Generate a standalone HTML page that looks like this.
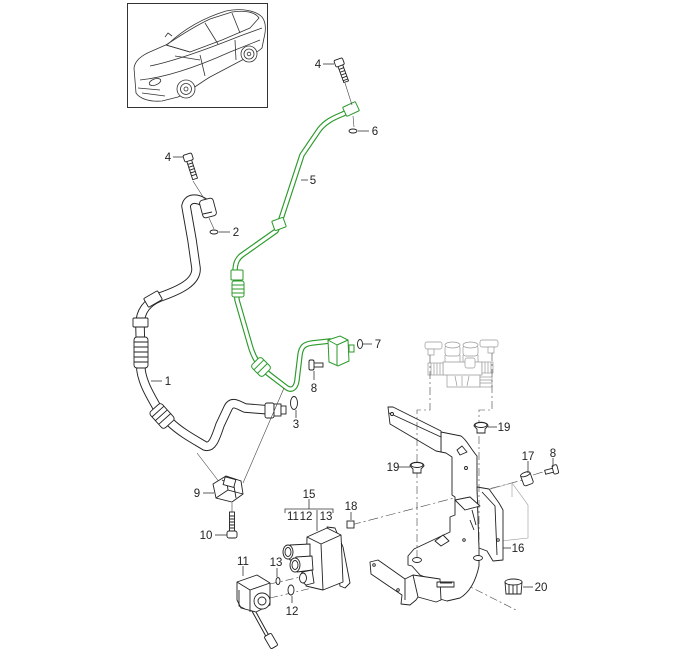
<!DOCTYPE html>
<html><head><meta charset="utf-8"><style>
html,body{margin:0;padding:0;background:#fff;}
svg{display:block}
text{font-family:"Liberation Sans",Arial,sans-serif;font-size:11.5px;fill:#222;}
</style></head><body>
<svg width="697" height="666" viewBox="0 0 697 666" xmlns="http://www.w3.org/2000/svg">
<rect width="697" height="666" fill="#fff"/>

<!-- Car inset -->
<rect x="127.5" y="3.5" width="140" height="104" fill="#fff" stroke="#333" stroke-width="1"/>
<g fill="none" stroke="#333" stroke-width="0.8" stroke-linejoin="round">
  <path d="M134,68 C135,60 142,55 152,51 L168,44 C183,30 203,18 226,11 C240,8 255,10 262,17 C266,22 266,30 264,38 L262,48 C258,52 252,55 246,58 L210,77 C200,83 190,91 178,97 L162,101 C150,102 140,99 136,93 Z" fill="#fff"/>
  <path d="M166,45 C178,37 195,26 210,19 L232,12 C245,10 255,12 259,18 L250,28 L222,40 L190,52 Z"/>
  <path d="M166,45 L190,52 M205,23 L218,44 M232,13 L240,33"/>
  <path d="M150,66 C170,62 200,52 240,36 L262,28"/>
  <path d="M140,80 C160,78 190,70 230,52 L260,40"/>
  <path d="M200,55 L205,76 M235,40 L236,60 M175,56 L200,60"/>
  <ellipse cx="155" cy="82" rx="6" ry="3" transform="rotate(-20 155 82)"/>
  <path d="M165,37 L168,33 L172,36"/>
  <circle cx="186" cy="89" r="9" fill="#fff"/><circle cx="186" cy="89" r="5.5"/><circle cx="186" cy="89" r="2"/>
  <circle cx="249" cy="54" r="8" fill="#fff"/><circle cx="249" cy="54" r="5"/><circle cx="249" cy="54" r="1.8"/>
  <path d="M138,88 L160,90 M142,93 L165,96"/>
</g>

<!-- Hose 1 -->
<g fill="none" stroke-linecap="round" stroke-linejoin="round">
  <path d="M205,203 C196,197 188,198 186,206 L192,240 L196,268 C197,282 180,290 160,297 C148,302 140,310 140,325 L141,370 C143,385 152,398 160,413 L170,422 C180,432 195,440 205,446 C212,448 215,440 220,425 L228,408 C232,400 238,405 245,408 L270,410" stroke="#222" stroke-width="9.5"/>
  <path d="M205,203 C196,197 188,198 186,206 L192,240 L196,268 C197,282 180,290 160,297 C148,302 140,310 140,325 L141,370 C143,385 152,398 160,413 L170,422 C180,432 195,440 205,446 C212,448 215,440 220,425 L228,408 C232,400 238,405 245,408 L270,410" stroke="#fff" stroke-width="7.6"/>
</g>
<g fill="#fff" stroke="#222" stroke-width="0.9">
  <rect x="-7" y="-9" width="14" height="18" rx="3" transform="translate(208,208) rotate(-15)"/>
  <path d="M203,214 L212,212" fill="none"/>
  <rect x="-8" y="-5" width="16" height="10" rx="1" transform="translate(153,299) rotate(-30)"/>
  <rect x="133" y="318" width="15" height="9" rx="1"/>
  <rect x="134" y="337" width="14" height="31" rx="3"/>
  <path d="M134,342 H148 M134,347 H148 M134,352 H148 M134,357 H148 M134,362 H148" fill="none"/>
  <g transform="translate(162,416) rotate(-42)">
    <rect x="-8" y="-11" width="16" height="22" rx="3"/>
    <path d="M-8,-6 H8 M-8,-1 H8 M-8,4 H8" fill="none"/>
  </g>
  <rect x="265" y="403" width="9" height="15" rx="2"/>
  <rect x="274" y="404" width="7" height="12"/>
  <rect x="281" y="406" width="5" height="8"/>
</g>

<!-- Green pipe 5 -->
<g fill="none" stroke-linecap="round" stroke-linejoin="round">
  <path d="M350,110 L343,114 C333,118 325,122 319,130 L302,155 L280,222 L276,231 L242,255 C238,258 235,262 235,272 L237,300 L250,345 C253,356 258,366 270,375 L287,388 C292,391 296,388 297,380 L300,355 C301,347 304,344 312,343 L330,341" stroke="#2a9a2a" stroke-width="5.5"/>
  <path d="M350,110 L343,114 C333,118 325,122 319,130 L302,155 L280,222 L276,231 L242,255 C238,258 235,262 235,272 L237,300 L250,345 C253,356 258,366 270,375 L287,388 C292,391 296,388 297,380 L300,355 C301,347 304,344 312,343 L330,341" stroke="#fff" stroke-width="3.2"/>
</g>
<g fill="#fff" stroke="#2a9a2a" stroke-width="1">
  <rect x="-7" y="-5" width="14" height="10" rx="1" transform="translate(351,109) rotate(-25)"/>
  <rect x="-6" y="-5" width="12" height="10" rx="1" transform="translate(279,224) rotate(-20)"/>
  <rect x="231" y="270" width="12" height="10" rx="1"/>
  <rect x="232" y="281" width="12" height="16" rx="2"/>
  <path d="M232,285 H244 M232,289 H244 M232,293 H244" fill="none"/>
  <g transform="translate(261,367) rotate(-45)">
    <rect x="-7" y="-8" width="14" height="16" rx="3"/>
    <path d="M-7,-3 H7 M-7,2 H7" fill="none"/>
  </g>
  <path d="M328,340 L340,336 L348,340 L349,361 L338,366 L329,362 Z"/>
  <path d="M328,340 L337,345 L337,365 M337,345 L348,340" fill="none"/>
  <rect x="349" y="345" width="5" height="7"/>
</g>

<!-- thin connector lines -->
<g fill="none" stroke="#444" stroke-width="0.6">
  <path d="M345,83 L352,105 M353,116 L354,127"/>
  <path d="M193,181 L205,200 M209,218 L214,229"/>
  <path d="M220,483 L197,453 M243,483 L284,388"/>
  <path d="M232,503 L232,512"/>
  <path d="M351,525 L523,480 M533,475 L546,471" stroke-dasharray="10 3 2 3"/>
  <path d="M270,584 L305,576 M270,598 L312,588" stroke-dasharray="8 3 2 3"/>
  <path d="M447,575 L516,610" stroke-dasharray="8 3 2 3"/>
</g>

<!-- bolts -->
<g stroke="#222" stroke-width="0.9" fill="#fff">
  <g transform="translate(339,62) rotate(-20)">
    <rect x="-2.5" y="3" width="5" height="18"/>
    <path d="M-2.5,7 H2.5 M-2.5,10 H2.5 M-2.5,13 H2.5 M-2.5,16 H2.5 M-2.5,19 H2.5" fill="none"/>
    <rect x="-4.5" y="-3" width="9" height="7" rx="1.5"/>
  </g>
  <g transform="translate(188,157) rotate(-18)">
    <rect x="-2.5" y="3" width="5" height="20"/>
    <path d="M-2.5,7 H2.5 M-2.5,10 H2.5 M-2.5,13 H2.5 M-2.5,16 H2.5 M-2.5,19 H2.5" fill="none"/>
    <rect x="-4.5" y="-3" width="9" height="7" rx="1.5"/>
  </g>
  <g transform="translate(232,534)">
    <rect x="-2.5" y="-22" width="5" height="20"/>
    <path d="M-2.5,-18 H2.5 M-2.5,-15 H2.5 M-2.5,-12 H2.5 M-2.5,-9 H2.5 M-2.5,-6 H2.5" fill="none"/>
    <rect x="-5" y="-3" width="10" height="7" rx="2"/>
  </g>
  <rect x="313" y="363" width="10" height="4"/>
  <rect x="309" y="360" width="5" height="10" rx="1.5"/>
  <rect x="545" y="469" width="9" height="4" transform="rotate(-15 550 471)"/>
  <rect x="553" y="465" width="5" height="9" rx="1.5" transform="rotate(-15 555 470)"/>
  <g transform="translate(527,479) rotate(-20)">
    <rect x="-5" y="-6" width="10" height="12" rx="2"/>
    <ellipse cx="0" cy="-5" rx="5" ry="2"/>
  </g>
  <ellipse cx="353" cy="131" rx="4" ry="2"/>
  <ellipse cx="214" cy="232" rx="4" ry="2"/>
  <ellipse cx="294" cy="403" rx="3.5" ry="6.5"/>
  <ellipse cx="360" cy="344" rx="2.5" ry="4.5"/>
  <ellipse cx="278" cy="581" rx="2" ry="3.5"/>
  <ellipse cx="291" cy="590" rx="3" ry="5"/>
  <rect x="347" y="521" width="7" height="7"/>
  <path d="M213,484 L226,476 L241,481 L243,494 L232,502 L216,498 Z"/>
  <path d="M226,476 L228,490 L243,494 M228,490 L216,498 M222,480 L234,486 L236,498" fill="none"/>
  <rect x="224" y="478" width="11" height="8" transform="rotate(15 229 482)"/>
</g>

<!-- Valve block 15 -->
<g stroke="#222" stroke-width="0.9" fill="#fff" stroke-linejoin="round">
  <path d="M327,527 L335,528 L343,547 L350,583 L345,588 L340,586 L334,548 Z"/>
  <path d="M307,537 L327,528 L341,535 L343,582 L323,590 L306,586 Z"/>
  <path d="M307,537 L321,544 L341,535 M321,544 L323,590" fill="none"/>
  <path d="M310,544 L290,545 L284,552 L290,560 L310,558 Z"/>
  <ellipse cx="288" cy="552" rx="5" ry="7"/><ellipse cx="288" cy="552" rx="3" ry="4.5"/>
  <path d="M312,556 L296,557 L291,565 L297,572 L313,570 Z"/>
  <ellipse cx="295" cy="565" rx="5" ry="7"/><ellipse cx="295" cy="565" rx="3" ry="4.5"/>
  <path d="M312,570 L302,572 L300,580 L306,585 L314,583 Z"/>
  <ellipse cx="303" cy="578" rx="3.5" ry="5"/>
</g>

<!-- Sensor 11 -->
<g stroke="#222" stroke-width="0.9" fill="#fff" stroke-linejoin="round">
  <path d="M252,608 L268,637" stroke-width="4"/>
  <path d="M252,608 L268,637" stroke="#fff" stroke-width="2"/>
  <rect x="-4" y="-7" width="8" height="14" rx="1.5" transform="translate(271,641) rotate(-30)"/>
  <path d="M237,582 L257,575 L270,583 L270,605 L256,612 L241,608 L237,600 Z"/>
  <path d="M237,582 L250,590 L270,583 M250,590 L250,612" fill="none"/>
  <circle cx="262" cy="601" r="8"/>
  <circle cx="262" cy="601" r="4"/>
  <path d="M239,590 L239,606 L245,609" fill="none"/>
</g>

<!-- Ghost valve (gray) -->
<g stroke="#999" stroke-width="0.7" fill="#fff">
  <path d="M447,373 L480,373 L480,387 L447,387 Z"/>
  <path d="M443,362 L482,362 L482,375 L443,375 Z"/>
  <path d="M445,355 L445,362 M460,355 L460,362 M463,355 L463,362 M478,355 L478,362" fill="none"/>
  <rect x="445" y="345" width="15" height="11" rx="3"/><ellipse cx="452.5" cy="345" rx="7.5" ry="3"/>
  <rect x="463" y="345" width="15" height="11" rx="3"/><ellipse cx="470.5" cy="345" rx="7.5" ry="3"/>
  <rect x="425" y="342" width="17" height="7" rx="2"/><rect x="428" y="349" width="6" height="6"/>
  <rect x="480" y="340" width="18" height="7" rx="2"/><rect x="488" y="347" width="6" height="6"/>
  <rect x="428" y="363" width="15" height="12"/>
  <path d="M431,363 V375 M434,363 V375 M437,363 V375 M440,363 V375" fill="none"/>
  <rect x="482" y="362" width="11" height="11"/>
  <path d="M485,362 V373 M488,362 V373 M491,362 V373" fill="none"/>
  <rect x="480" y="377" width="12" height="10"/>
  <path d="M480,380 H492 M480,383 H492" fill="none"/>
  <rect x="465" y="358" width="10" height="10" rx="2"/>
  <path d="M455,376 L457,386 M462,376 L462,386 M469,376 L467,386" fill="none"/>
</g>

<!-- Ghost box for 16 -->
<g fill="none" stroke="#999" stroke-width="0.6">
  <path d="M484,491 L512,483 L528,505 L528,538 L500,541"/>
  <path d="M512,483 L512,497"/>
</g>

<!-- Bracket 16 -->
<g stroke="#222" stroke-width="0.9" fill="#fff" stroke-linejoin="round">
  <path d="M441,432 L461,436 C467,440 470,448 477,456 L477,484 L479,548 L479,566 C476,580 470,592 460,598 L447,601 L440,599 L440,583 L420,575 L412,566 L408,565 L408,556 L414,549 L450,532 L450,517 L455,515 L455,497 L452,495 L452,457 L446,453 L441,452 Z"/>
  <path d="M477,487 L489,489 L499,503 L503,510 L503,560 L493,561 L487,551 L479,548 Z"/>
  <path d="M482,492 L495,506 L497,555" fill="none"/>
  <path d="M388,407 L393,407 L441,431 L441,452 L436,451 L390,424 Z"/>
  <path d="M389,413 L441,437" fill="none"/>
  <path d="M370,562 L378,560 L405,579 L413,575 L440,579 L441,600 L436,602 L418,597 L416,600 L410,605 L401,604 L402,595 L371,574 Z"/>
  <path d="M405,579 L405,600 M413,575 L418,597" fill="none"/>
  <rect x="437" y="582" width="17" height="5"/>
  <path d="M440,583 L452,583" fill="none"/>
  <ellipse cx="417" cy="560" rx="4.5" ry="2.5"/>
  <ellipse cx="478" cy="558" rx="4.5" ry="2.5"/>
  <circle cx="392" cy="414" r="1.5"/>
  <circle cx="374" cy="565" r="1.3"/>
  <circle cx="398" cy="590" r="1.3"/>
  <circle cx="466" cy="468" r="1.5"/>
  <circle cx="464" cy="540" r="1.3"/>
  <circle cx="498" cy="540" r="1.3"/>
  <path d="M457,450 L462,446 L467,452 L460,455 Z"/>
  <path d="M435,541 L443,535 L449,541 L441,546 Z"/>
  <path d="M455,500 L470,497 L480,506 L465,510 Z"/>
  <path d="M472,510 L476,525 M470,520 L474,530" fill="none"/>
</g>

<!-- Dashed lines over bracket -->
<g fill="none" stroke="#444" stroke-width="0.6" stroke-dasharray="8 3 2 3">
  <path d="M430,355 L430,410 L417,410 L417,558"/>
  <path d="M492,353 L492,410 L479,410 L479,556"/>
</g>

<!-- grommets 19 and cap 20 -->
<g stroke="#222" stroke-width="0.9" fill="#fff">
  <path d="M474,426 C474,421 488,421 488,426 L485,429 L485,433 L477,433 L477,429 Z"/>
  <ellipse cx="481" cy="425" rx="6" ry="2.5"/>
  <path d="M410,466 C410,461 424,461 424,466 L421,469 L421,473 L413,473 L413,469 Z"/>
  <ellipse cx="417" cy="465" rx="6" ry="2.5"/>
  <path d="M505,582 L522,582 L521,594 L506,594 Z"/>
  <ellipse cx="513.5" cy="582" rx="8.5" ry="3"/>
  <path d="M509,585 V594 M513,585 V594 M517,585 V594" fill="none"/>
</g>

<!-- Leader lines -->
<g fill="none" stroke="#333" stroke-width="0.8">
  <path d="M323,64 H334"/>
  <path d="M358,131 H369"/>
  <path d="M301,180 H308"/>
  <path d="M173,157 H183"/>
  <path d="M219,232 H230"/>
  <path d="M151,381 H162"/>
  <path d="M296,410 V418"/>
  <path d="M363,344 H372"/>
  <path d="M314,371 V380"/>
  <path d="M203,493 H214"/>
  <path d="M215,535 H227"/>
  <path d="M309,499 V509 M285,513 V509 H333 V513"/>
  <path d="M317,510 V531"/>
  <path d="M351,512 V520"/>
  <path d="M243,566 V576"/>
  <path d="M277,568 V577"/>
  <path d="M292,596 V603"/>
  <path d="M488,427 H497"/>
  <path d="M399,467 H410"/>
  <path d="M528,461 V473"/>
  <path d="M553,458 V467"/>
  <path d="M503,548 H511"/>
  <path d="M523,587 H533"/>
</g>

<!-- Labels -->
<g text-anchor="middle">
  <text x="318" y="68">4</text>
  <text x="375" y="135">6</text>
  <text x="313" y="184">5</text>
  <text x="168" y="161">4</text>
  <text x="236" y="236">2</text>
  <text x="168" y="385">1</text>
  <text x="296" y="428">3</text>
  <text x="378" y="348">7</text>
  <text x="314" y="392">8</text>
  <text x="197" y="497">9</text>
  <text x="206" y="539">10</text>
  <text x="309" y="498">15</text>
  <text x="293" y="520">11</text>
  <text x="306" y="520">12</text>
  <text x="326" y="520">13</text>
  <text x="351" y="510">18</text>
  <text x="243" y="565">11</text>
  <text x="276" y="566">13</text>
  <text x="292" y="615">12</text>
  <text x="504" y="431">19</text>
  <text x="393" y="471">19</text>
  <text x="528" y="460">17</text>
  <text x="553" y="457">8</text>
  <text x="518" y="552">16</text>
  <text x="541" y="591">20</text>
</g>
</svg>
</body></html>
